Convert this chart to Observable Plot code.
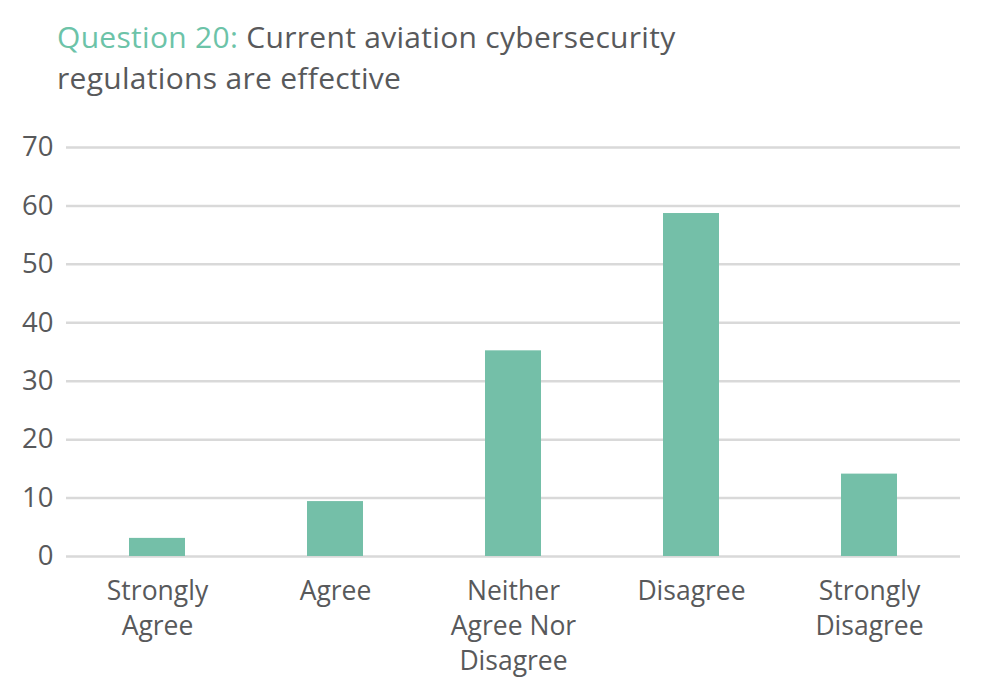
<!DOCTYPE html>
<html>
<head>
<meta charset="utf-8">
<script src="https://cdn.jsdelivr.net/npm/d3@7"></script>
<script src="https://cdn.jsdelivr.net/npm/@observablehq/plot@0.6"></script>
<style>
  html, body { margin: 0; padding: 0; background: #ffffff; }
  #title {
    box-sizing: border-box;
    height: 110px;
    padding: 16px 0 0 57px;
    font-family: "Open Sans", sans-serif;
    font-size: 30px;
    letter-spacing: 0.3px;
    color: #58595b;
    white-space: nowrap;
  }
  #title .line { display: block; height: 41px; line-height: 41px; }
  #title .q { color: #6cc3a8; }
</style>
</head>
<body>
<div id="title"><div class="line"><span class="q">Question 20:</span> Current aviation cybersecurity</div><div class="line">regulations are effective</div></div>
<div id="chart"></div>
<script>
const categories = ["Strongly Agree", "Agree", "Neither Agree Nor Disagree", "Disagree", "Strongly Disagree"];
const tickLabels = ["Strongly\nAgree", "Agree", "Neither\nAgree Nor\nDisagree", "Disagree", "Strongly\nDisagree"];
const values = [3.1, 9.4, 35.2, 58.7, 14.1];
const yTicks = [0, 10, 20, 30, 40, 50, 60, 70];

const data = categories.map((c, i) => ({category: c, value: values[i]}));

const chart = Plot.plot({
  width: 985,
  height: 590,
  marginTop: 37,
  marginBottom: 144,
  marginLeft: 66,
  marginRight: 25,
  style: {fontFamily: "Open Sans, sans-serif", background: "#ffffff", color: "#58595b"},
  x: {domain: categories, paddingInner: 0.685, paddingOuter: 0.3425, label: null},
  y: {domain: [0, 70], label: null},
  marks: [
    Plot.gridY(yTicks, {stroke: "#d9d9d9", strokeWidth: 2.5, strokeOpacity: 1}),
    Plot.barY(data, {x: "category", y: "value", fill: "#74bfa8"}),
    Plot.axisY(yTicks, {tickSize: 0, tickPadding: 13, fontSize: 27.5, fill: "#58595b", label: null}),
    Plot.axisX({
      tickSize: 0,
      tickPadding: 19,
      fontSize: 26.5,
      lineHeight: 1.32,
      fill: "#58595b",
      label: null,
      tickFormat: d => tickLabels[categories.indexOf(d)]
    })
  ]
});
document.getElementById("chart").appendChild(chart);
</script>
</body>
</html>
